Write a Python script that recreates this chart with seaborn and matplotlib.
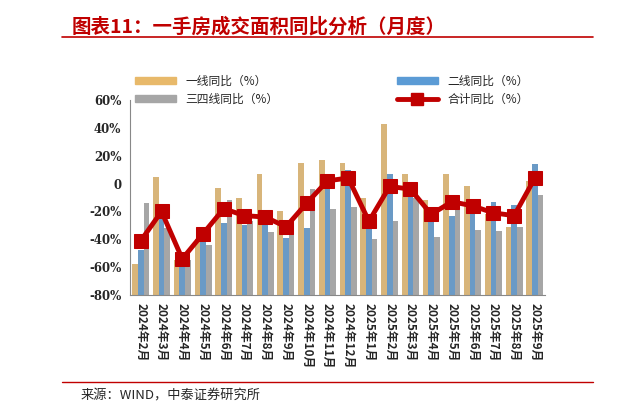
import matplotlib
matplotlib.use("Agg")
import matplotlib.pyplot as plt
import seaborn as sns
import numpy as np
import pandas as pd

sns.set_style("white")
plt.rcParams['font.family'] = ['Noto Sans CJK SC', 'DejaVu Sans']

months = ["2024年2月","2024年3月","2024年4月","2024年5月","2024年6月","2024年7月","2024年8月","2024年9月",
          "2024年10月","2024年11月","2024年12月","2025年1月","2025年2月","2025年3月","2025年4月","2025年5月",
          "2025年6月","2025年7月","2025年8月","2025年9月"]
tier1 = [-58, 5, -55, -40, -3, -10, 7, -20, 15, 17, 15, -10, 43, 7, -12, 7, -2, -22, -31, 2]
tier2 = [-48, -23, -54, -40, -28, -30, -30, -39, -32, -1, 10, -29, 7, -9, -17, -23, -18, -13, -15, 14]
tier34 = [-14, -32, -55, -44, -12, -27, -35, -35, -4, -18, -17, -40, -27, -10, -38, -17, -33, -34, -31, -8]
total = [-41, -20, -54, -36, -18, -23, -24, -31, -14, 2, 4, -27, -2, -4, -22, -13, -16, -21, -23, 4]
base = -80  # bars rise from the bottom of the axis

fig = plt.figure(figsize=(6.21, 4.15), dpi=100)
ax = fig.add_axes([0.21, 0.289, 0.668, 0.47])

df = pd.DataFrame({"month": months * 3,
                   "val": [v - base for v in tier1 + tier2 + tier34],
                   "s": ["一线同比（%）"] * 20 + ["二线同比（%）"] * 20 + ["三四线同比（%）"] * 20})
sns.barplot(data=df, x="month", y="val", hue="s", ax=ax,
            palette=["#E8B96A", "#5B9BD5", "#A6A6A6"], width=0.82, gap=0,
            linewidth=0, legend=False)
sns.lineplot(x=np.arange(20), y=[v - base for v in total], ax=ax, color="#C00000", lw=3.5,
             marker="s", markersize=10, markeredgecolor="#C00000")

ticks = list(range(-80, 61, 20))
ax.set_ylim(0, 140)
ax.set_xlim(-0.5, 19.5)
ax.set_yticks([t - base for t in ticks])
ax.set_yticklabels([f"{v}%" if v != 0 else "0" for v in ticks], fontsize=8.5, fontweight="bold", family="DejaVu Serif")
ax.set_xticks(range(20))
ax.set_xticklabels(months, rotation=-90, fontsize=8.5, fontweight="bold")
ax.tick_params(axis="x", length=3, pad=3)
ax.tick_params(axis="y", length=3)
ax.set_xlabel(""); ax.set_ylabel("")
for s in ["top", "right"]:
    ax.spines[s].set_visible(False)
ax.spines["left"].set_color("#888888")
ax.spines["bottom"].set_color("#888888")

from matplotlib.patches import Patch
from matplotlib.lines import Line2D
handles = [Patch(color="#E8B96A"), Patch(color="#5B9BD5"), Patch(color="#A6A6A6"),
           Line2D([], [], color="#C00000", lw=3.5, marker="s", markersize=9)]
labels = ["一线同比（%）", "二线同比（%）", "三四线同比（%）", "合计同比（%）"]
fig.legend([handles[0], handles[2], handles[1], handles[3]],
           [labels[0], labels[2], labels[1], labels[3]],
           ncol=2, loc="upper left", bbox_to_anchor=(0.2, 0.845), frameon=False,
           fontsize=8.5, columnspacing=10, handlelength=3.5, handleheight=0.5, labelspacing=0.4)

fig.text(0.115, 0.935, "图表11：一手房成交面积同比分析（月度）", color="#C00000", fontsize=14,
         fontweight="bold", style="italic", va="center")
fig.add_artist(Line2D([0.1, 0.955], [0.912, 0.912], color="#C00000", lw=1.2))
fig.add_artist(Line2D([0.1, 0.955], [0.08, 0.08], color="#C00000", lw=1))
fig.text(0.13, 0.045, "来源：WIND，中泰证券研究所", fontsize=9.5, va="center")

fig.savefig("out.png", dpi=100)
